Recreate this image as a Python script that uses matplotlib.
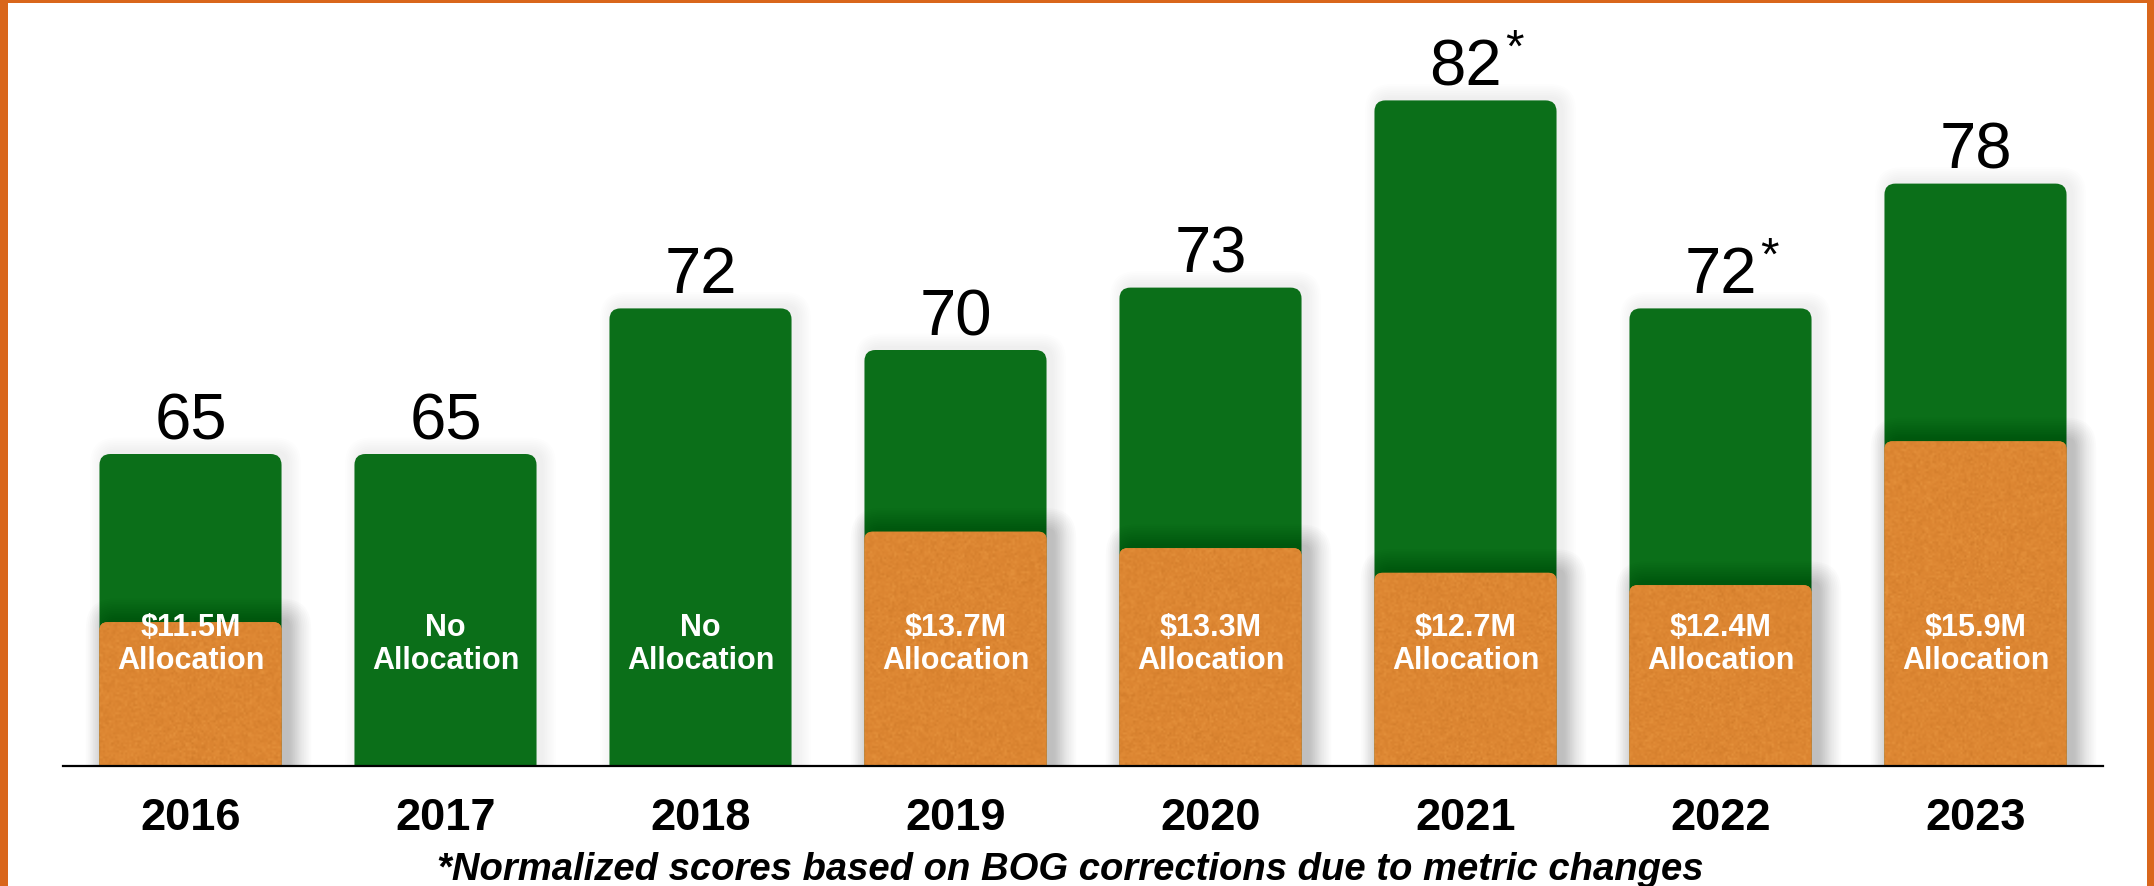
import numpy as np
import matplotlib
matplotlib.use('Agg')
import matplotlib.pyplot as plt
from matplotlib.patches import FancyBboxPatch, Rectangle
from matplotlib.colors import LinearSegmentedColormap
import matplotlib.transforms as mtransforms

plt.rcParams['font.family'] = ['Liberation Sans', 'DejaVu Sans']

years = ['2016', '2017', '2018', '2019', '2020', '2021', '2022', '2023']
scores = [65, 65, 72, 70, 73, 82, 72, 78]
normalized = [False, False, False, False, False, True, True, False]
allocation = [11.5, None, None, 13.7, 13.3, 12.7, 12.4, 15.9]   # $M
footnote = '*Normalized scores based on BOG corrections due to metric changes'

GREEN = '#0B6F19'
ORANGE = '#DD8632'
BORDER = '#D9661B'

W, H = 2154, 886
fig = plt.figure(figsize=(W / 100, H / 100), dpi=100, facecolor=BORDER)
fig.patches.append(Rectangle((8 / W, 0), 2139 / W, 883 / H, transform=fig.transFigure,
                             facecolor='white', edgecolor='none', zorder=-1))

# axes box in pixels: baseline 766 px from the top, 728 px tall
ax_left, ax_bottom, ax_w, ax_h = 63, 120, 2040, 728
ax = fig.add_axes([ax_left / W, ax_bottom / H, ax_w / W, ax_h / H])
ax.set_facecolor('none')
ax2 = ax.twinx()
ax2.set_facecolor('none')

score_lim = (50, 85)
alloc_lim = (8, 8 + 728 / 41.1)
pos = np.arange(len(years))
bar_w = 0.714

px_x = ax_w / len(years)                          # px per x unit
px_y1 = ax_h / (score_lim[1] - score_lim[0])      # px per score point
px_y2 = ax_h / (alloc_lim[1] - alloc_lim[0])      # px per $M


def rounded(axis, x, w, h, r_px, px_y, **kw):
    p = FancyBboxPatch((x, 0), w, h, boxstyle='round,pad=0,rounding_size=%f' % (r_px / px_x),
                       mutation_aspect=px_x / px_y, **kw)
    axis.add_patch(p)
    return p


def soft_shadow(axis, x, w, h, r_px, px_y, alpha, steps=12, dx=7, dy=2):
    for k in range(1, steps + 1):
        g = k * 1.8
        rounded(axis, x + (dx - g) / px_x, w + 2 * g / px_x, h + (g + dy) / px_y,
                r_px + g, px_y, facecolor='black', edgecolor='none', alpha=alpha, zorder=1)


# score bars (green), rounded on top
bars = ax.bar(pos, scores, width=bar_w, color=GREEN)
for b in bars:
    x, w, h = b.get_x(), b.get_width(), b.get_height()
    b.remove()
    soft_shadow(ax, x, w, h, 12, px_y1, 0.008, steps=8, dx=5)
    rounded(ax, x, w, h, 11, px_y1, facecolor=GREEN, edgecolor='none', zorder=2)

for xi, v, star in zip(pos, scores, normalized):
    ax.annotate(str(v), (xi, v), xytext=(0, 10.8), textcoords='offset points',
                ha='center', va='baseline', fontsize=47, color='black')
    if star:
        ax.annotate('*', (xi, v), xytext=(35, 52), textcoords='offset points',
                    ha='center', va='top', fontsize=34, color='black')

# allocation bars (orange) on their own scale
has_alloc = [a is not None for a in allocation]
alloc_pos = pos[has_alloc]
alloc_vals = [a for a in allocation if a is not None]
grain = LinearSegmentedColormap.from_list('grain', ['#D27D2B', ORANGE, '#E5923C'])
rng = np.random.default_rng(7)
obars = ax2.bar(alloc_pos, alloc_vals, width=bar_w, color=ORANGE)
for b in obars:
    x, w, h = b.get_x(), b.get_width(), b.get_height()
    b.remove()
    soft_shadow(ax2, x, w, h, 8, px_y2, 0.016, steps=12, dx=8, dy=2)
    p = rounded(ax2, x, w, h, 8, px_y2, facecolor=ORANGE, edgecolor='none', zorder=3)
    rows, cols = int(h * px_y2 / 2), int(w * px_x / 2)
    im = ax2.imshow(rng.normal(size=(rows, cols)), extent=(x, x + w, 0, h), aspect='auto',
                    cmap=grain, vmin=-2.5, vmax=2.5, interpolation='bilinear', zorder=4)
    im.set_clip_path(p)

# labels inside the bars
lab = mtransforms.blended_transform_factory(ax.transData, ax.transAxes)
for xi, a in zip(pos, allocation):
    top = 'No' if a is None else '$%.1fM' % a
    ax2.text(xi, 0.1896, top, transform=lab, ha='center', va='center', fontsize=22,
             fontweight='bold', color='white', zorder=6, parse_math=False)
    ax2.text(xi, 0.1440, 'Allocation', transform=lab, ha='center', va='center',
             fontsize=22, fontweight='bold', color='white', zorder=6)

ax.set_xlim(-0.5, len(years) - 0.5)
ax.set_ylim(*score_lim)
ax2.set_ylim(*alloc_lim)

for s in ax.spines.values():
    s.set_visible(False)
for name, s in ax2.spines.items():
    s.set_visible(name == 'bottom')
ax2.spines['bottom'].set_linewidth(1.6)
ax2.spines['bottom'].set_zorder(7)
ax.set_yticks([])
ax2.set_yticks([])
ax.set_xticks(pos)
ax.set_xticklabels(years, fontsize=32.5, fontweight='bold')
ax.tick_params(axis='x', length=0, pad=23)

fig.text(1070 / W, 16 / H, footnote, ha='center', va='center', fontsize=27.5,
         fontstyle='italic', fontweight='bold', color='black')

fig.savefig('out.png', dpi=100, facecolor=fig.get_facecolor())
